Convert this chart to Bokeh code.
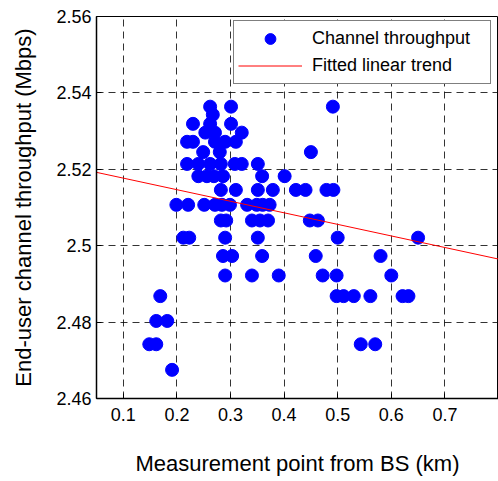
from bokeh.plotting import figure
from bokeh.models import Range1d, FixedTicker, Legend, LegendItem
from bokeh.embed import file_html
from bokeh.resources import INLINE

FONT = "Liberation Sans"

x_ticks = [0.1, 0.2, 0.3, 0.4, 0.5, 0.6, 0.7]
y_ticks = [2.46, 2.48, 2.5, 2.52, 2.54, 2.56]
y_tick_labels = ["2.46", "2.48", "2.5", "2.52", "2.54", "2.56"]

# measurement distance from BS (km) and channel throughput (Mbps), grouped by level
dist_km = [
    0.262, 0.301, 0.491,
    0.267,
    0.230, 0.262, 0.301,
    0.253, 0.271, 0.321,
    0.219, 0.230, 0.271, 0.290, 0.310,
    0.249, 0.280, 0.450,
    0.219, 0.240, 0.262, 0.282, 0.308, 0.321, 0.351,
    0.240, 0.256, 0.269, 0.286, 0.359, 0.401,
    0.282, 0.310, 0.351, 0.379, 0.422, 0.440, 0.479, 0.492,
    0.199, 0.221, 0.251, 0.271, 0.284, 0.299, 0.331, 0.349, 0.360, 0.373,
    0.282, 0.292, 0.340, 0.355, 0.370, 0.448, 0.463,
    0.212, 0.223, 0.290, 0.351, 0.500, 0.650,
    0.286, 0.303, 0.359, 0.459, 0.580,
    0.290, 0.340, 0.390, 0.472, 0.498, 0.600,
    0.169, 0.498, 0.511, 0.530, 0.561, 0.621, 0.632,
    0.1615, 0.182,
    0.1485, 0.1615, 0.543, 0.570,
    0.191,
]
throughput = (
    [2.5364] * 3 + [2.5343] * 1 + [2.5319] * 3 + [2.5296] * 3 + [2.5272] * 5
    + [2.5245] * 3 + [2.5214] * 7 + [2.5182] * 6 + [2.5146] * 8 + [2.5107] * 10
    + [2.5066] * 7 + [2.5021] * 6 + [2.4973] * 5 + [2.4922] * 6 + [2.4868] * 7
    + [2.4803] * 2 + [2.4742] * 4 + [2.4675] * 1
)

trend_x = [0.05, 0.8]
trend_y = [2.5192, 2.4965]

p = figure(
    width=498, height=481,
    output_backend="svg", toolbar_location=None,
    x_range=Range1d(0.05, 0.8), y_range=Range1d(2.46, 2.56),
    min_border_left=96, min_border_right=0, min_border_top=16, min_border_bottom=83,
)
p.background_fill_color = "white"
p.border_fill_color = "white"
p.outline_line_color = "black"
p.outline_line_width = 1

ln = p.line(trend_x, trend_y, line_color="#FF0000", line_width=1)
sc = p.scatter(dist_km, throughput, marker="circle", size=13,
               fill_color="#0000FF", line_color="#0000FF")
p.renderers = [sc, ln]

for ax in (p.xaxis[0], p.yaxis[0]):
    ax.axis_line_color = "black"
    ax.axis_line_width = 1.5
    ax.major_tick_in = 5
    ax.major_tick_out = 0
    ax.minor_tick_line_color = None
    ax.major_tick_line_color = "black"
    ax.major_label_text_font = FONT
    ax.major_label_text_font_size = "18px"
    ax.major_label_text_color = "black"
    ax.axis_label_text_font = FONT
    ax.axis_label_text_font_size = "22px"
    ax.axis_label_text_font_style = "normal"
    ax.axis_label_text_color = "black"

p.xaxis[0].ticker = FixedTicker(ticks=x_ticks)
p.yaxis[0].ticker = FixedTicker(ticks=y_ticks)
p.yaxis[0].major_label_overrides = dict(zip(y_ticks, y_tick_labels))
p.xaxis[0].major_label_standoff = 9
p.yaxis[0].major_label_standoff = 5
p.xaxis[0].axis_label = "Measurement point from BS (km)"
p.yaxis[0].axis_label = "End-user channel throughput (Mbps)"
p.xaxis[0].axis_label_standoff = 27
p.yaxis[0].axis_label_standoff = 17

for g in (p.xgrid[0], p.ygrid[0]):
    g.grid_line_color = "black"
    g.grid_line_alpha = 0.8
    g.grid_line_dash = "7 5"
    g.grid_line_width = 1

legend = Legend(
    items=[LegendItem(label="Channel throughput", renderers=[sc]),
           LegendItem(label="Fitted linear trend", renderers=[ln])],
    location=(137, 314),
    orientation="vertical",
    padding=4, spacing=0, margin=0,
    glyph_height=27, glyph_width=64, label_height=27,
    label_standoff=10, label_width=174,
    label_text_font=FONT, label_text_font_size="18px", label_text_color="black",
    border_line_color="black", border_line_width=1,
    background_fill_color="white", background_fill_alpha=1.0,
)
p.add_layout(legend)

open("out.html", "w").write(file_html(p, INLINE))
